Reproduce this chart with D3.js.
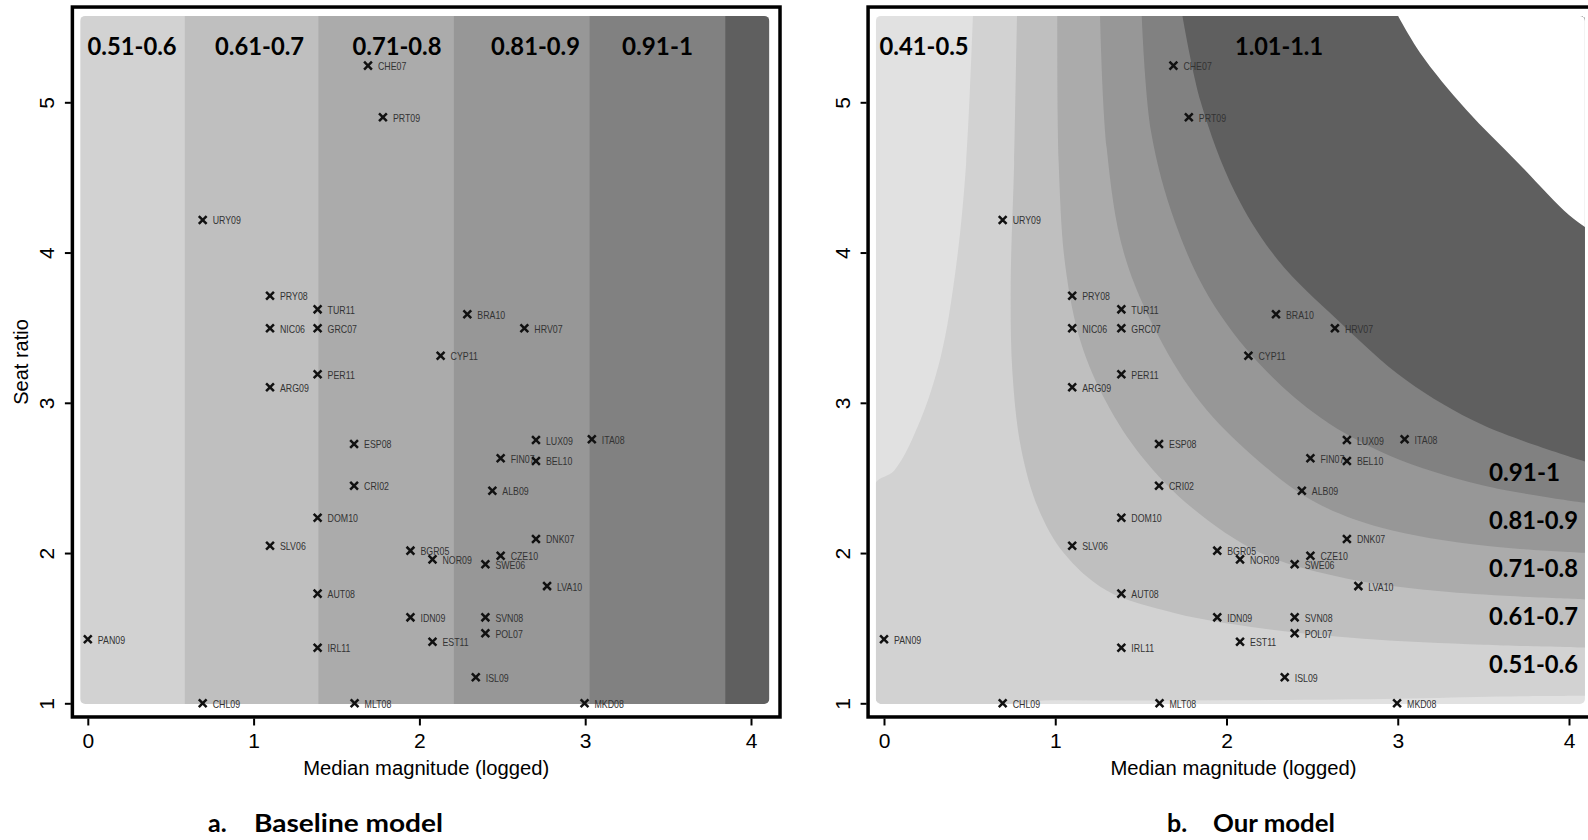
<!DOCTYPE html>
<html>
<head>
<meta charset="utf-8">
<script src="https://cdn.jsdelivr.net/npm/d3@7"></script>
<style>
  body { margin: 0; background: #fff; }
  svg { display: block; }
</style>
</head>
<body>
<svg id="chart" width="1588" height="840"></svg>
<script>
// ---- data ----
const countries = ['CHE07','PRT09','URY09','PRY08','TUR11','NIC06','GRC07','BRA10','HRV07','CYP11',
  'PER11','ARG09','ESP08','LUX09','ITA08','FIN07','BEL10','CRI02','ALB09','DOM10',
  'DNK07','SLV06','BGR05','NOR09','CZE10','SWE06','LVA10','AUT08','IDN09','SVN08',
  'POL07','PAN09','IRL11','EST11','ISL09','CHL09','MLT08','MKD08'];
const magnitude = [1.69,1.78,0.693,1.099,1.386,1.099,1.386,2.289,2.633,2.128,
  1.386,1.099,1.606,2.703,3.04,2.49,2.703,1.606,2.44,1.386,
  2.703,1.099,1.946,2.079,2.49,2.398,2.77,1.386,1.946,2.398,
  2.398,0,1.386,2.079,2.34,0.693,1.609,2.996];
const seatRatio = [5.244,4.9,4.217,3.713,3.622,3.496,3.496,3.589,3.496,3.313,
  3.19,3.103,2.726,2.752,2.757,2.631,2.613,2.448,2.415,2.235,
  2.094,2.049,2.016,1.958,1.982,1.925,1.78,1.73,1.572,1.572,
  1.466,1.426,1.37,1.41,1.173,1,1,1];

const xTicks = [0, 1, 2, 3, 4];
const yTicks = [1, 2, 3, 4, 5];

// baseline model: vertical bands (edges in logged magnitude)
const baselineEdges = [-0.046, 0.585, 1.39, 2.208, 3.025, 3.844, 4.11];
const baselineFills = ['#d2d2d2', '#bfbfbf', '#ababab', '#979797', '#818181', '#5f5f5f'];
const baselineLabels = ['0.51-0.6', '0.61-0.7', '0.71-0.8', '0.81-0.9', '0.91-1'];

// our model: contour boundaries, top edge -> right edge
const ourBase = '#e1e1e1';
const bound05 = [[0.52,5.6],[0.48,4.6],[0.42,3.9],[0.33,3.3],[0.2,2.85],[0.06,2.55],[-0.06,2.45],[-0.06,1.03],[1.0,1.02],[2.0,1.02],[3.0,1.03],[3.6,1.045],[4.12,1.05]];
const bound06 = [[0.777,5.6],[0.76,4.6],[0.74,3.8],[0.75,3.2],[0.8,2.7],[0.9,2.3],[1.05,2.0],[1.3,1.75],[1.7,1.6],[2.2,1.5],[2.8,1.43],[3.5,1.39],[4.12,1.37]];
const bound07 = [[1.012,5.6],[1.02,4.6],[1.06,3.9],[1.15,3.4],[1.3,3.0],[1.5,2.65],[1.8,2.3],[2.2,2.0],[2.7,1.83],[3.3,1.74],[4.12,1.69]];
const bound08 = [[1.261,5.6],[1.3,4.7],[1.4,4.0],[1.6,3.45],[1.85,3.0],[2.15,2.65],[2.5,2.35],[2.9,2.17],[3.5,2.05],[4.12,2.0]];
const bound09 = [[1.504,5.6],[1.56,4.8],[1.7,4.2],[1.9,3.7],[2.2,3.25],[2.55,2.9],[2.95,2.65],[3.5,2.45],[4.12,2.33]];
const bound10 = [[1.739,5.6],[1.85,5.0],[2.05,4.4],[2.3,3.95],[2.65,3.55],[3.05,3.15],[3.5,2.85],[4.12,2.6]];
const bound11 = [[2.99,5.6],[3.13,5.33],[3.4,4.95],[3.7,4.6],[4.0,4.25],[4.12,4.15]];
const ourBounds = [bound05, bound06, bound07, bound08, bound09, bound10, bound11];
const ourFills = ['#d2d2d2', '#bfbfbf', '#ababab', '#979797', '#818181', '#5f5f5f', '#ffffff'];
const ourTopLabels = ['0.41-0.5', '1.01-1.1'];
const ourSideLabels = ['0.91-1', '0.81-0.9', '0.71-0.8', '0.61-0.7', '0.51-0.6'];

// ---- layout ----
const svg = d3.select('#chart');
const y = d3.scaleLinear().domain([1, 5]).range([703.3, 102.3]);
const frameX = [-0.093, 4.175], frameY = [0.909, 5.634];
const gridY = [0.995, 5.575];
const labelFont = 'Lato, "Open Sans", sans-serif';
const axisFont = '"Liberation Sans", Arial, sans-serif';

function drawPanel(x, id, gridX, drawBands) {
  const g = svg.append('g');

  // clip for the shaded area (slightly rounded corners)
  svg.append('defs').append('clipPath').attr('id', 'clip-' + id)
    .append('rect')
    .attr('x', x(gridX[0])).attr('y', y(gridY[1]))
    .attr('width', x(gridX[1]) - x(gridX[0]))
    .attr('height', y(gridY[0]) - y(gridY[1]))
    .attr('rx', 5);

  const bands = g.append('g').attr('clip-path', `url(#clip-${id})`);
  drawBands(bands, x, gridX);

  // markers + labels
  const pts = g.append('g');
  countries.forEach((c, i) => {
    const px = x(magnitude[i]), py = y(seatRatio[i]);
    pts.append('path')
      .attr('d', `M${px - 3.9},${py - 3.9}L${px + 3.9},${py + 3.9}M${px - 3.9},${py + 3.9}L${px + 3.9},${py - 3.9}`)
      .attr('stroke', '#111').attr('stroke-width', 2.5);
    const t = pts.append('text')
      .attr('x', px + 10).attr('y', py + 4.5)
      .attr('font-family', axisFont).attr('font-size', 11)
      .attr('fill', '#333').text(c);
    const len = t.node().getComputedTextLength();
    t.attr('textLength', len * 0.8).attr('lengthAdjust', 'spacingAndGlyphs');
  });

  // frame
  g.append('rect')
    .attr('x', x(frameX[0])).attr('y', y(frameY[1]))
    .attr('width', x(frameX[1]) - x(frameX[0]))
    .attr('height', y(frameY[0]) - y(frameY[1]))
    .attr('fill', 'none').attr('stroke', '#000').attr('stroke-width', 3.5);

  // y axis
  const ya = g.append('g')
    .attr('transform', `translate(${x(frameX[0]) - 1.5},0)`)
    .call(d3.axisLeft(y).tickValues(yTicks).tickSize(6).tickFormat(d3.format('d')));
  ya.select('.domain').remove();
  ya.selectAll('.tick line').attr('stroke', '#000').attr('stroke-width', 2);
  ya.selectAll('.tick text')
    .attr('x', 0).attr('y', 0).attr('dy', '0.36em')
    .attr('transform', 'translate(-24,0) rotate(-90)')
    .attr('text-anchor', 'middle')
    .attr('font-family', axisFont).attr('font-size', 21).attr('fill', '#000');

  // x axis
  const xa = g.append('g')
    .attr('transform', `translate(0,${y(frameY[0]) + 1.5})`)
    .call(d3.axisBottom(x).tickValues(xTicks).tickSize(7).tickPadding(8).tickFormat(d3.format('d')));
  xa.select('.domain').remove();
  xa.selectAll('.tick line').attr('stroke', '#000').attr('stroke-width', 2);
  xa.selectAll('.tick text')
    .attr('font-family', axisFont).attr('font-size', 21).attr('fill', '#000');

  // axis titles
  const cx = (x(frameX[0]) + x(frameX[1])) / 2;
  g.append('text')
    .attr('x', cx).attr('y', 775)
    .attr('text-anchor', 'middle')
    .attr('font-family', axisFont).attr('font-size', 20)
    .attr('textLength', 246).attr('lengthAdjust', 'spacingAndGlyphs')
    .text('Median magnitude (logged)');
  return g;
}

function bandLabel(g, px, py, txt, len, anchor) {
  g.append('text')
    .attr('x', px).attr('y', py)
    .attr('text-anchor', anchor || 'middle')
    .attr('font-family', labelFont).attr('font-weight', 700)
    .attr('font-size', 25).attr('fill', '#000')
    .attr('textLength', len).attr('lengthAdjust', 'spacingAndGlyphs')
    .text(txt);
}

// ---- panel a: baseline model ----
const xA = d3.scaleLinear().domain([0, 4]).range([87.8, 751]);
const gA = drawPanel(xA, 'a', [-0.046, 4.11], (b, x) => {
  b.selectAll('rect').data(baselineFills).enter().append('rect')
    .attr('x', (d, i) => x(baselineEdges[i]))
    .attr('width', (d, i) => x(baselineEdges[i + 1]) - x(baselineEdges[i]) + 0.5)
    .attr('y', y(gridY[1]))
    .attr('height', y(gridY[0]) - y(gridY[1]))
    .attr('fill', d => d);
});
// y title only on first panel
svg.append('text')
  .attr('transform', `translate(28,${(y(frameY[0]) + y(frameY[1])) / 2}) rotate(-90)`)
  .attr('text-anchor', 'middle')
  .attr('font-family', axisFont).attr('font-size', 20)
  .text('Seat ratio');

// band labels sit at the centre of the top of each band
const topLabelY = y(5.315);
const baselineLabelCentres = [0.267, 1.036, 1.865, 2.70, 3.436];
baselineLabels.forEach((t, i) => {
  bandLabel(gA, xA(baselineLabelCentres[i]), topLabelY, t, t.length > 6 ? 89 : 71);
});

// ---- panel b: our model ----
const xB = d3.scaleLinear().domain([0, 4]).range([884, 1569]);
const gB = drawPanel(xB, 'b', [-0.047, 4.093], (b, x) => {
  b.append('rect')
    .attr('x', x(-0.1)).attr('y', y(gridY[1]) - 2)
    .attr('width', x(4.2) - x(-0.1))
    .attr('height', y(gridY[0]) - y(gridY[1]) + 4)
    .attr('fill', ourBase);
  const line = d3.line().x(d => x(d[0])).y(d => y(d[1])).curve(d3.curveCatmullRom.alpha(0.5));
  ourBounds.forEach((pts, i) => {
    const corner = [4.2, 5.7];
    const d = line(pts) + `L${x(pts[pts.length - 1][0] + 0.1)},${y(pts[pts.length - 1][1])}` +
      `L${x(corner[0])},${y(corner[1])}L${x(pts[0][0])},${y(corner[1])}Z`;
    b.append('path').attr('d', d).attr('fill', ourFills[i]);
  });
});
bandLabel(gB, xB(0.234), topLabelY, ourTopLabels[0], 89);
bandLabel(gB, xB(2.307), topLabelY, ourTopLabels[1], 88);
const sideLabelY = [2.48, 2.16, 1.84, 1.52, 1.20];
ourSideLabels.forEach((t, i) => {
  bandLabel(gB, xB(3.533), y(sideLabelY[i]), t, t.length > 6 ? 89 : 71, 'start');
});

// ---- captions ----
function caption(px, letter, txt, len) {
  svg.append('text').attr('x', px).attr('y', 832)
    .attr('font-family', labelFont).attr('font-weight', 700).attr('font-size', 25)
    .text(letter);
  svg.append('text').attr('x', px + 46).attr('y', 832)
    .attr('font-family', labelFont).attr('font-weight', 700).attr('font-size', 25)
    .attr('textLength', len).attr('lengthAdjust', 'spacingAndGlyphs')
    .text(txt);
}
caption(208, 'a.', 'Baseline model', 189);
caption(1167, 'b.', 'Our model', 122);
</script>
</body>
</html>
